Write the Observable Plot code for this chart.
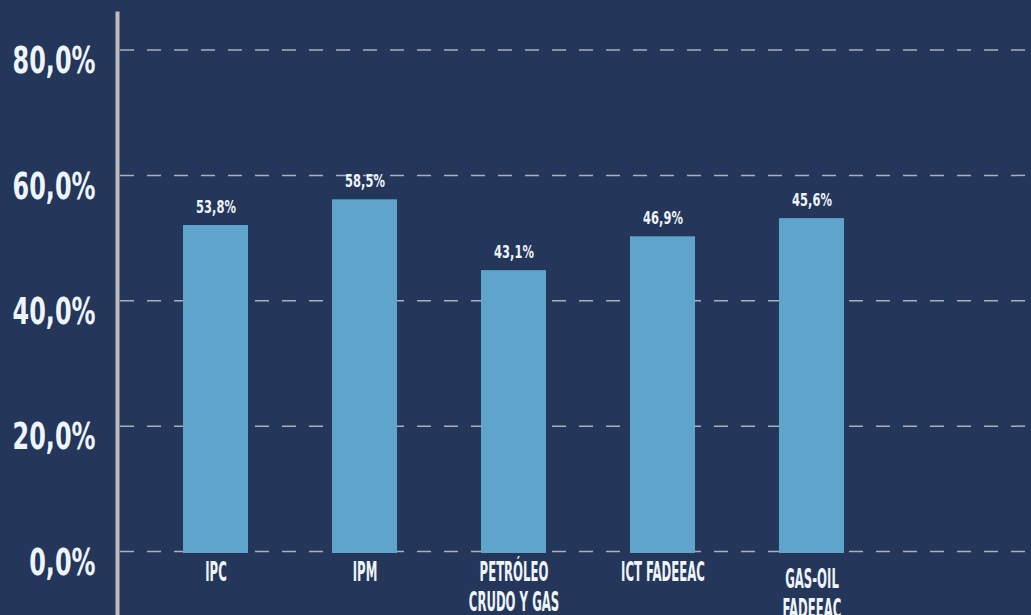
<!DOCTYPE html>
<html>
<head>
<meta charset="utf-8">
<script src="https://cdn.jsdelivr.net/npm/d3@7"></script>
<script src="https://cdn.jsdelivr.net/npm/@observablehq/plot@0.6"></script>
<style>
  html, body { margin: 0; padding: 0; background: #243659; }
  #chart { width: 1031px; height: 615px; overflow: hidden; }
</style>
</head>
<body>
<div id="chart"></div>
<script>
// Categories (multi-line labels use \n)
const categories = ["IPC", "IPM", "PETRÓLEO\nCRUDO Y GAS", "ICT FADEEAC", "GAS-OIL\nFADEEAC"];
// Bar heights as drawn (percent)
const barValues = [52.0, 56.1, 44.8, 50.2, 53.1];
// Value labels as printed above each bar
const valueLabels = ["53,8%", "58,5%", "43,1%", "46,9%", "45,6%"];
// Y axis ticks and their labels
const yTicks = [0, 20, 40, 60, 80];
const yTickLabels = ["0,0%", "20,0%", "40,0%", "60,0%", "80,0%"];

const data = categories.map((c, i) => ({cat: c, value: barValues[i], label: valueLabels[i]}));
const ticks = yTicks.map((t, i) => ({t, label: yTickLabels[i]}));

const font = "'DejaVu Sans Condensed', 'Liberation Sans Narrow', sans-serif";
const textColor = "#eef4fb";

const chart = Plot.plot({
  width: 1031,
  height: 615,
  marginLeft: 117,
  marginRight: 0,
  marginTop: 13,
  marginBottom: 0,
  style: {background: "#243659", fontFamily: font, overflow: "visible"},
  x: {domain: categories, range: [183, 844], paddingInner: 0.564, paddingOuter: 0, axis: null},
  y: {domain: [0, 80], range: [551, 49.5], axis: null},
  marks: [
    Plot.ruleY(yTicks, {stroke: "#a9afbc", strokeWidth: 1.5, strokeDasharray: "14,13", insetLeft: 3}),
    Plot.barY(data, {x: "cat", y: "value", fill: "#5fa5cb", insetBottom: -2}),
    Plot.frame({anchor: "left", stroke: "#bdbdbd", strokeWidth: 4}),
    Plot.text(data, {x: "cat", y: "value", text: "label", dy: -18, fill: textColor,
      fontSize: 17, fontWeight: "bold", lineAnchor: "middle", className: "vlabel"}),
    Plot.text(ticks, {y: "t", text: "label", frameAnchor: "left", dx: -22, dy: 11, textAnchor: "end",
      fill: textColor, fontSize: 38, fontWeight: "bold", lineAnchor: "middle", className: "ylabel"}),
    Plot.text(data.filter(d => !d.cat.startsWith("GAS")), {x: "cat", y: 0, text: "cat", dy: 9,
      lineAnchor: "top", lineHeight: 1.13, fill: textColor, fontSize: 26, fontWeight: "bold", className: "clabel"}),
    Plot.text(data.filter(d => d.cat.startsWith("GAS")), {x: "cat", y: 0, text: "cat", dy: 16,
      lineAnchor: "top", lineHeight: 1.13, fill: textColor, fontSize: 26, fontWeight: "bold", className: "clabel"})
  ]
});

const svg = d3.select(chart);
function squeeze(sel, sx) {
  svg.selectAll(sel).each(function() {
    const t = this.getAttribute("transform") || "";
    this.setAttribute("transform", t + ` scale(${sx},1)`);
  });
}
squeeze(".clabel text", 0.5);
squeeze(".ylabel text", 0.7);
squeeze(".vlabel text", 0.75);

document.getElementById("chart").appendChild(chart);
</script>
</body>
</html>
